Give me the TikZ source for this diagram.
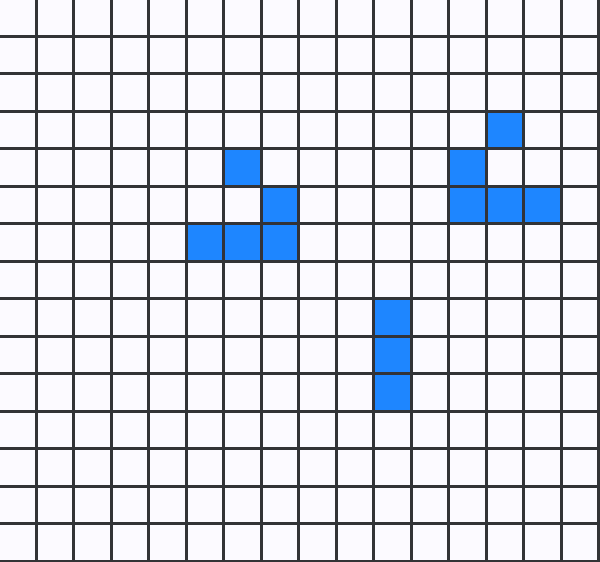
\documentclass[tikz,border=0pt]{standalone}
\usepackage{xcolor}
\usepackage{tikz}
\definecolor{figline}{RGB}{51,51,54}
\definecolor{figcell}{RGB}{30,134,255}
\definecolor{figback}{RGB}{252,250,255}
\tikzset{
  gridln/.style ={draw=figline, line width=3pt, line cap=butt},
  cellon/.style ={fill=figcell},
}

\begin{document}
\begin{tikzpicture}[x=1pt,y=-1pt]
  \useasboundingbox (0,0) rectangle (600,562);
  \fill[figback] (0,0) rectangle (600,562);
  % live cells (column, row)
  \foreach \c/\r in {6/4,7/5,5/6,6/6,7/6,13/3,12/4,12/5,13/5,14/5,10/8,10/9,10/10}
    \fill[cellon] ({37.5*\c-1.5},{37.5*\r-1.5}) rectangle ({37.5*(\c+1)-1.5},{37.5*(\r+1)-1.5});
  % grid
  \foreach \k in {1,...,16}
    \draw[gridln] ({37.5*\k-1.5},0) -- ({37.5*\k-1.5},562);
  \foreach \k in {1,...,15}
    \draw[gridln] (0,{37.5*\k-1.5}) -- (600,{37.5*\k-1.5});
\end{tikzpicture}
\end{document}
